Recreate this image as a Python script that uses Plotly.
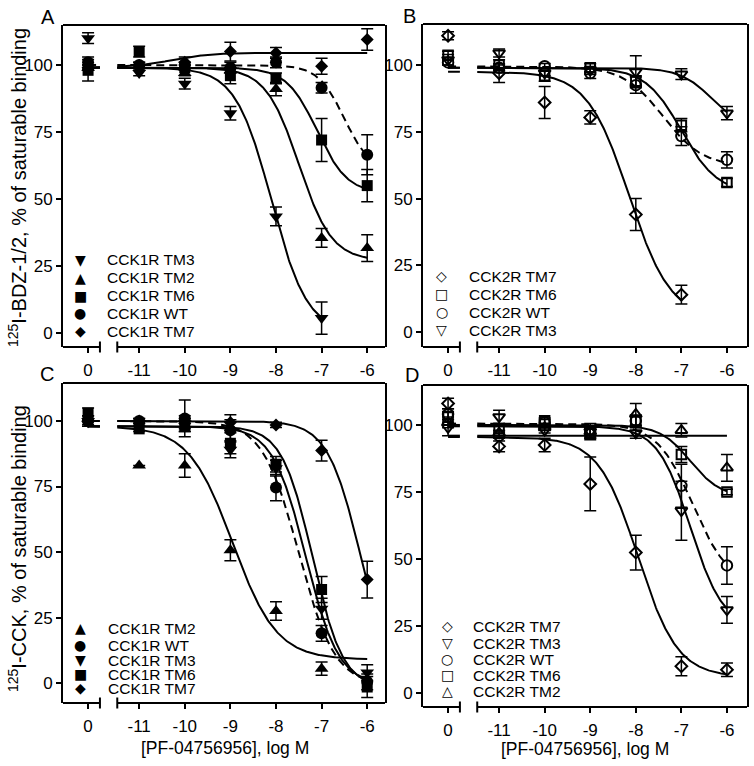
import numpy as np
import plotly.graph_objects as go

# ---------------- data ----------------
DOSE_LABELS = ["0", "-11", "-10", "-9", "-8", "-7", "-6"]
LOG_DOSE = [None, -11, -10, -9, -8, -7, -6]   # None = vehicle ("0")

# Panel A: 125I-BDZ-1/2, CCK1R constructs
A_TM3 = [110, 97, 93, 82, 43.5, 5.6, None]
A_TM3_ERR = [2, 1, 2, 2.5, 3.5, 6, 0]
A_TM2 = [99, 100, 97, 98, 91, 35.5, 31.7]
A_TM2_ERR = [1, 1, 1, 1, 2.5, 3.5, 5]
A_TM6 = [98, 105, 99, 96, 95, 72, 55]
A_TM6_ERR = [4, 2, 1, 3, 2, 8, 6]
A_WT = [101, 100, 100, 99, 101, 91.5, 66.5]
A_WT_ERR = [2, 1, 1, 2, 2, 2, 7.5]
A_TM7 = [99, 99, 101, 105, 104.5, 99.5, 109.5]
A_TM7_ERR = [1, 1, 2, 3.5, 2, 3, 4]

# Panel B: 125I-BDZ-1/2, CCK2R constructs
B_TM7 = [111, 97, 86, 80.4, 44, 14, None]
B_TM7_ERR = [1.5, 3.5, 6, 2.5, 6, 3.5, 0]
B_TM6 = [103.7, 100, 96, 99, 94, 77.5, 56]
B_TM6_ERR = [1.5, 2, 2, 1.5, 2, 2.5, 1.5]
B_WT = [101, 99, 99.6, 97, 92.5, 73.4, 64.5]
B_WT_ERR = [1, 1, 1, 2, 3, 3.5, 3]
B_TM3 = [102, 104.5, 97, 98, 97.5, 96.6, 82]
B_TM3_ERR = [2, 1.5, 1, 1.5, 6, 2, 2.5]

# Panel C: 125I-CCK, CCK1R constructs
C_TM2 = [101, 83, 83, 50.7, 27.5, 5.5, None]
C_TM2_ERR = [1, 0, 4.5, 4, 3.5, 2.5, 0]
C_WT = [100, 100, 101, 96.5, 74.6, 19, 0.5]
C_WT_ERR = [2, 1, 7, 4, 5, 3, 3]
C_TM3 = [100, 99, 99, 89, 82, 28.4, 4]
C_TM3_ERR = [2, 1, 3, 3, 3, 4, 3]
C_TM6 = [103, 97, 98, 91.5, 83.5, 35.7, -1.5]
C_TM6_ERR = [2, 1, 2, 4, 3, 5, 4]
C_TM7 = [99.7, 100, 99, 99.4, 98.5, 88.7, 39.5]
C_TM7_ERR = [1, 1, 2, 3, 1, 4, 7]

# Panel D: 125I-CCK, CCK2R constructs
D_TM7 = [108, 92, 92.5, 78, 52.4, 10, 8.7]
D_TM7_ERR = [2, 2, 2.5, 10, 6.5, 3.5, 2.5]
D_TM3 = [99, 103, 98, 97.5, 97, 68, 31]
D_TM3_ERR = [3, 2.5, 1, 3, 2, 11, 5]
D_WT = [104, 96, 101, 97, 101.6, 77.3, 47.6]
D_WT_ERR = [2, 1, 1, 2, 2, 8, 7]
D_TM6 = [103, 98.7, 101.6, 97, 101.6, 89, 75]
D_TM6_ERR = [2, 1, 1, 2, 2, 3, 1]
D_TM2 = [101, 97, 99, 97.5, 104, 98, 84]
D_TM2_ERR = [2, 1, 1, 2, 4, 2.5, 5]

# fitted one-site curves: (top, bottom, logIC50, hill, last log dose)
A_FIT = {"TM3": (99, 0, -8.1, 1.1, -7), "TM2": (99, 27, -7.5, 1.2, -6),
         "TM6": (99, 52, -7.1, 1.3, -6), "WT": (100, 60, -6.5, 1.5, -6),
         "TM7": (99, 104.5, -10.3, 1.0, -6)}
B_FIT = {"TM7": (97.5, 5, -8.15, 0.95, -7), "TM6": (99, 52, -7.0, 1.1, -6),
         "WT": (99.5, 62, -7.4, 1.0, -6), "TM3": (99, 75, -6.3, 1.2, -6)}
C_FIT = {"TM2": (98, 9, -8.95, 0.9, -6), "WT": (100, -1, -7.5, 1.1, -6),
         "TM3": (98, -1, -7.35, 1.2, -6), "TM6": (98, -2, -7.2, 1.3, -6),
         "TM7": (100, -2, -6.15, 1.2, -6)}
D_FIT = {"TM7": (95.5, 6, -7.95, 1.0, -6), "TM3": (99.5, 24, -6.8, 1.2, -6),
         "WT": (100.5, 40, -6.75, 1.1, -6), "TM6": (100, 73, -6.8, 1.3, -6),
         "TM2": (96, 96, -7.0, 1.0, -6)}

# ---------------- layout constants ----------------
W, H = 754, 766
FONT = "Liberation Sans, Arial, sans-serif"
ZERO_POS = -12.12     # axis position for the vehicle ("0") point
BREAK_L, BREAK_R = -11.86, -11.48

def px(x):
    return x / W

def py(y):
    return 1 - y / H

PANELS = [
    dict(key="A", n="", box=(63, 385, 25, 347), xr=(-12.67, -5.61), yr=(-5.2, 114.9),
         open=False, fit=A_FIT, receptor="CCK1R",
         series=[("TM3", A_TM3, A_TM3_ERR, "triangle-down", "▼"),
                 ("TM2", A_TM2, A_TM2_ERR, "triangle-up", "▲"),
                 ("TM6", A_TM6, A_TM6_ERR, "square", "■"),
                 ("WT", A_WT, A_WT_ERR, "circle", "●"),
                 ("TM7", A_TM7, A_TM7_ERR, "diamond", "◆")],
         leg=(80, 105, [260, 278, 296, 313, 331]), letter=(48, 17)),
    dict(key="B", n="2", box=(423, 747, 24, 347), xr=(-12.67, -5.56), yr=(-5.6, 115.4),
         open=True, fit=B_FIT, receptor="CCK2R",
         series=[("TM7", B_TM7, B_TM7_ERR, "diamond", "◇"),
                 ("TM6", B_TM6, B_TM6_ERR, "square", "□"),
                 ("WT", B_WT, B_WT_ERR, "circle", "○"),
                 ("TM3", B_TM3, B_TM3_ERR, "triangle-down", "▽")],
         leg=(442, 467, [276, 294, 312, 330]), letter=(410, 16)),
    dict(key="C", n="3", box=(63, 385, 383, 703), xr=(-12.67, -5.61), yr=(-7.6, 114.5),
         open=False, fit=C_FIT, receptor="CCK1R",
         series=[("TM2", C_TM2, C_TM2_ERR, "triangle-up", "▲"),
                 ("WT", C_WT, C_WT_ERR, "circle", "●"),
                 ("TM3", C_TM3, C_TM3_ERR, "triangle-down", "▼"),
                 ("TM6", C_TM6, C_TM6_ERR, "square", "■"),
                 ("TM7", C_TM7, C_TM7_ERR, "diamond", "◆")],
         leg=(80, 106, [628, 645, 660, 674, 688]), letter=(47, 374)),
    dict(key="D", n="4", box=(423, 747, 385, 707), xr=(-12.67, -5.56), yr=(-5.2, 114.9),
         open=True, fit=D_FIT, receptor="CCK2R",
         series=[("TM7", D_TM7, D_TM7_ERR, "diamond", "◇"),
                 ("TM3", D_TM3, D_TM3_ERR, "triangle-down", "▽"),
                 ("WT", D_WT, D_WT_ERR, "circle", "○"),
                 ("TM6", D_TM6, D_TM6_ERR, "square", "□"),
                 ("TM2", D_TM2, D_TM2_ERR, "triangle-up", "△")],
         leg=(447, 471, [626, 643, 659, 675, 691]), letter=(412, 375)),
]

FILLED_SIZE = {"triangle-down": 12, "triangle-up": 12, "square": 11, "circle": 12, "diamond": 10}
OPEN_SIZE = {"triangle-down": 10.5, "triangle-up": 10.5, "square": 9.5, "circle": 10.5, "diamond": 9}

xpos = [ZERO_POS if d is None else d for d in LOG_DOSE]

fig = go.Figure()
layout = dict(width=W, height=H, margin=dict(l=0, r=0, t=0, b=0), autosize=False,
              paper_bgcolor="white", plot_bgcolor="white", showlegend=False,
              font=dict(family=FONT, color="black"))
shapes, annotations = [], []

def note(text, x, y, size, xanchor="center", angle=0, family=FONT):
    return dict(text=text, x=px(x), y=py(y), xref="paper", yref="paper",
                showarrow=False, xanchor=xanchor, yanchor="middle", textangle=angle,
                font=dict(size=size, family=family, color="black"))

for p in PANELS:
    xa, ya = "x" + p["n"], "y" + p["n"]
    x0, x1, y0, y1 = p["box"]
    # curves first
    for name, vals, errs, sym, uni in p["series"]:
        top, bot, ic50, hill, xend = p["fit"][name]
        xs = np.concatenate([np.linspace(ZERO_POS, BREAK_L, 2), [np.nan],
                             np.linspace(BREAK_R, xend, 300)])
        ys = bot + (top - bot) / (1 + 10 ** (hill * (xs - ic50)))
        fig.add_trace(go.Scatter(
            x=xs, y=ys, mode="lines", xaxis=xa, yaxis=ya, hoverinfo="skip",
            line=dict(color="black", width=2, dash="8px,5px" if name == "WT" else "solid"),
            connectgaps=False))
    # points
    for name, vals, errs, sym, uni in p["series"]:
        if p["open"]:
            marker = dict(symbol=sym + "-open", size=OPEN_SIZE[sym], color="black",
                          line=dict(color="black", width=2))
        else:
            marker = dict(symbol=sym, size=FILLED_SIZE[sym], color="black",
                          line=dict(color="black", width=0))
        fig.add_trace(go.Scatter(
            x=xpos, y=vals, mode="markers", xaxis=xa, yaxis=ya,
            name=f"{p['receptor']} {name}", marker=marker,
            error_y=dict(type="data", array=errs, visible=True, color="black",
                         thickness=1.5, width=6)))
    # axes
    layout["xaxis" + p["n"]] = dict(
        domain=[px(x0), px(x1)], range=list(p["xr"]), anchor=ya,
        tickvals=xpos, ticktext=DOSE_LABELS, ticks="outside", ticklen=5,
        tickwidth=2, tickcolor="black", showline=False, showgrid=False,
        zeroline=False, tickfont=dict(size=17, family=FONT, color="black"),
        ticklabelstandoff=3)
    layout["yaxis" + p["n"]] = dict(
        domain=[py(y1), py(y0)], range=list(p["yr"]), anchor=xa,
        tickvals=[0, 25, 50, 75, 100], ticks="outside", ticklen=5, tickwidth=2,
        tickcolor="black", showline=True, linewidth=2, linecolor="black",
        mirror=True, showgrid=False, zeroline=False,
        tickfont=dict(size=17, family=FONT, color="black"))
    # frame top and broken bottom axis
    xd, yd = xa + " domain", ya + " domain"
    ln = dict(color="black", width=2)
    shapes.append(dict(type="line", xref=xd, yref=yd, x0=0, x1=1, y0=1, y1=1, line=ln))
    shapes.append(dict(type="line", xref=xa, yref=yd, x0=p["xr"][0], x1=BREAK_L,
                       y0=0, y1=0, line=ln))
    shapes.append(dict(type="line", xref=xa, yref=yd, x0=BREAK_R, x1=p["xr"][1],
                       y0=0, y1=0, line=ln))
    hgt = 5.5 / (y1 - y0)
    for bx in (BREAK_L, BREAK_R):
        shapes.append(dict(type="line", xref=xa, yref=yd, x0=bx, x1=bx,
                           y0=-hgt, y1=hgt, line=ln))
    # panel letter
    annotations.append(note(p["key"], p["letter"][0], p["letter"][1], 20))
    # legend
    sx, tx, rows = p["leg"]
    for (name, vals, errs, sym, uni), ry in zip(p["series"], rows):
        annotations.append(note(uni, sx, ry, 14, family="DejaVu Sans"))
        annotations.append(note(f"{p['receptor']} {name}", tx, ry, 15.5, xanchor="left"))

# axis titles
annotations += [
    note("<sup>125</sup>I-BDZ-1/2, % of saturable binding", 17, 188, 20, angle=-90),
    note("<sup>125</sup>I-CCK, % of saturable binding", 17, 549, 20, angle=-90),
    note("[PF-04756956], log M", 225, 748, 17.5),
    note("[PF-04756956], log M", 585, 749, 17.5),
]

layout["shapes"] = shapes
layout["annotations"] = annotations
fig.update_layout(**layout)
# let the fixed-size figure sit at the page origin (drop the browser's default body margin)
fig.write_html("out.html", config={"displayModeBar": False},
               post_script="document.body.style.margin='0';")
